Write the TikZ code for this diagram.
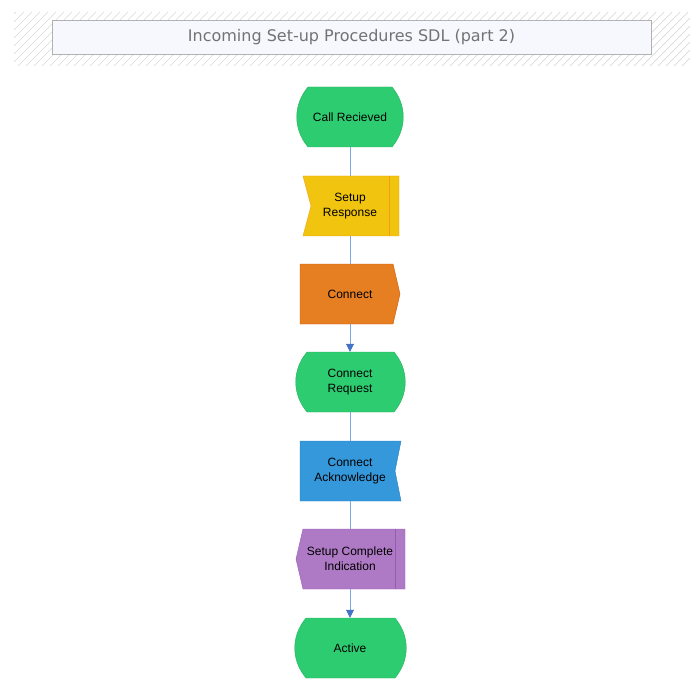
\documentclass[tikz,border=0pt]{standalone}
\usepackage{fontspec}
\usetikzlibrary{arrows.meta}
\setmainfont{Liberation Sans}
\newfontfamily\titlefont{DejaVu Sans}
\definecolor{stategreen}{HTML}{2ECC71}
\definecolor{statedge}{HTML}{27AE60}
\definecolor{inyellow}{HTML}{F1C40F}
\definecolor{inyedge}{HTML}{F39C12}
\definecolor{outorange}{HTML}{E67E22}
\definecolor{outoedge}{HTML}{D35400}
\definecolor{ackblue}{HTML}{3498DB}
\definecolor{ackedge}{HTML}{2980B9}
\definecolor{saveviolet}{HTML}{AF7AC5}
\definecolor{saveedge}{HTML}{9B59B6}
\definecolor{linkblue}{HTML}{7EA6E0}
\definecolor{tipblue}{HTML}{4472C4}
\begin{document}
\begin{tikzpicture}[x=1pt,y=-1pt]
  \tikzstyle{box}=[minimum width=0pt,minimum height=60pt,inner sep=0pt,align=center,font=\fontsize{12}{15}\selectfont];
  \tikzstyle{link}=[linkblue,line width=0.8pt];
  \tikzstyle{arrowlink}=[link,-{Triangle[length=8pt,width=8pt,fill=tipblue,color=tipblue]}];

  \useasboundingbox (0,0) rectangle (700,700);

  % title band
  \begin{scope}
    \clip (14,12) rectangle (690,66);
    \foreach \k in {0,8,...,760}
      \draw[black!15,line width=0.7pt] (\k,12) -- (\k-54,66);
  \end{scope}
  \node[draw=black!30,fill=black!15!blue!3!white,minimum width=599pt,minimum height=34pt,
        text=black!55,font=\titlefont\fontsize{16}{20}\selectfont] (title) at (351.5,37) {Incoming Set-up Procedures SDL (part 2)};

  % shapes
  \fill[stategreen,draw=statedge] (308,87) -- (392,87) to[bend left=40] (392,147) -- (308,147) to[bend left=40] (308,87) -- cycle;
  \node[box] (call) at (350,117) {Call Recieved};

  \fill[inyellow,draw=inyedge] (303,176) -- (399,176) -- (399,236) -- (303,236) -- (311,206) -- cycle;
  \draw[inyedge] (389,176) -- (389,236);
  \node[box] (resp) at (350,206) {Setup\\Response};

  \fill[outorange,draw=outoedge] (300,264) -- (393,264) -- (400,294) -- (393,324) -- (300,324) -- cycle;
  \node[box] (conn) at (350,294) {Connect};

  \fill[stategreen,draw=statedge] (307,352) -- (394,352) to[bend left=40] (394,412) -- (307,412) to[bend left=40] (307,352) -- cycle;
  \node[box] (req) at (350,382) {Connect\\Request};

  \fill[ackblue,draw=ackedge] (300,441) -- (401,441) -- (395,471) -- (401,501) -- (300,501) -- cycle;
  \node[box] (ack) at (350,471) {Connect\\Acknowledge};

  \fill[saveviolet,draw=saveedge] (303,529) -- (405,529) -- (405,589) -- (303,589) -- (296,559) -- cycle;
  \draw[saveedge] (395,529) -- (395,589);
  \node[box] (done) at (350,559) {Setup Complete\\Indication};

  \fill[stategreen,draw=statedge] (306,618) -- (395,618) to[bend left=40] (395,678) -- (306,678) to[bend left=40] (306,618) -- cycle;
  \node[box] (active) at (350,648) {Active};

  % connectors
  \draw[link] (call.south) -- (resp.north);
  \draw[link] (resp.south) -- (conn.north);
  \draw[arrowlink] (conn.south) -- (req.north);
  \draw[link] (req.south) -- (ack.north);
  \draw[link] (ack.south) -- (done.north);
  \draw[arrowlink] (done.south) -- (active.north);
\end{tikzpicture}
\end{document}
